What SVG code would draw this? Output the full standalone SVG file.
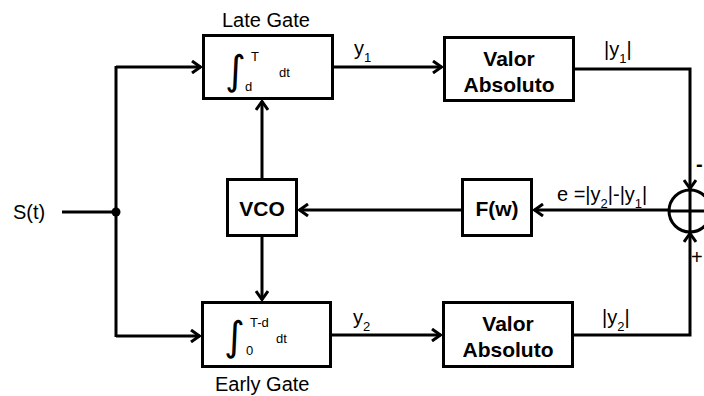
<svg xmlns="http://www.w3.org/2000/svg" width="704" height="396" viewBox="0 0 704 396">
<defs>
<style>
.box{fill:#fff;stroke:#000;stroke-width:3}
.ln{fill:none;stroke:#000;stroke-width:3}
.lbl{font-family:"Liberation Sans",Arial,sans-serif;font-size:20px;fill:#000}
.bold{font-family:"Liberation Sans",Arial,sans-serif;font-size:21px;font-weight:bold;fill:#000}
.sm{font-family:"Liberation Sans",Arial,sans-serif;font-size:13px;fill:#000}
.int{font-family:"DejaVu Sans",sans-serif;font-size:40px;fill:#000}
</style>
<marker id="arr" viewBox="0 0 12 14" refX="11" refY="7" markerWidth="12" markerHeight="14" markerUnits="userSpaceOnUse" orient="auto">
<path d="M2,1 L10.5,7 L2,13" fill="none" stroke="#000" stroke-width="3"/>
</marker>
</defs>
<rect width="704" height="396" fill="#fff"/>
<g id="connectors">
<line class="ln" x1="62" y1="212" x2="116" y2="212"/>
<line class="ln" x1="116" y1="66" x2="116" y2="337"/>
<polyline class="ln" points="116,67 201,67" marker-end="url(#arr)"/>
<polyline class="ln" points="116,336 200,336" marker-end="url(#arr)"/>
<circle cx="116" cy="212" r="4.5" fill="#000"/>
<polyline class="ln" points="333,67 442,67" marker-end="url(#arr)"/>
<polyline class="ln" points="331,335 441,335" marker-end="url(#arr)"/>
<polyline class="ln" points="574,69 690,69 690,189" marker-end="url(#arr)"/>
<polyline class="ln" points="573,335 690,335 690,233" marker-end="url(#arr)"/>
<polyline class="ln" points="668,210 534,210" marker-end="url(#arr)"/>
<polyline class="ln" points="462,210 299,210" marker-end="url(#arr)"/>
<polyline class="ln" points="262,179 262,101" marker-end="url(#arr)"/>
<polyline class="ln" points="262,237 262,300" marker-end="url(#arr)"/>
<text class="lbl" x="13" y="219">S(t)</text>
<text class="lbl" x="354" y="55">y<tspan class="sm" dy="7">1</tspan></text>
<text class="lbl" x="353" y="324">y<tspan class="sm" dy="7">2</tspan></text>
<text class="lbl" x="604" y="56">|y<tspan class="sm" dy="7">1</tspan><tspan dy="-7">|</tspan></text>
<text class="lbl" x="602" y="324">|y<tspan class="sm" dy="7">2</tspan><tspan dy="-7">|</tspan></text>
<text class="lbl" x="557" y="201">e =|y<tspan class="sm" dy="7">2</tspan><tspan dy="-7">|-|y</tspan><tspan class="sm" dy="7">1</tspan><tspan dy="-7">|</tspan></text>
<text class="lbl" x="696" y="171" font-weight="bold">-</text>
<text class="lbl" x="691" y="264">+</text>
</g>
<g id="late-gate">
<rect class="box" x="203.5" y="35.5" width="129" height="63"/>
<text class="lbl" x="222" y="27">Late Gate</text>
<text class="int" x="225" y="84">∫</text>
<text class="sm" x="251" y="61">T</text>
<text class="sm" x="245" y="91">d</text>
<text class="sm" x="279" y="77">dt</text>
</g>
<g id="early-gate">
<rect class="box" x="202.5" y="302.5" width="128" height="64"/>
<text class="lbl" x="215" y="391">Early Gate</text>
<text class="int" x="224" y="350">∫</text>
<text class="sm" x="250" y="327">T-d</text>
<text class="sm" x="246" y="355">0</text>
<text class="sm" x="276" y="343">dt</text>
</g>
<g id="valor-absoluto-1">
<rect class="box" x="444.5" y="37.5" width="129" height="63"/>
<text class="bold" x="509" y="66" text-anchor="middle">Valor</text>
<text class="bold" x="509" y="92" text-anchor="middle">Absoluto</text>
</g>
<g id="valor-absoluto-2">
<rect class="box" x="443.5" y="302.5" width="129" height="64"/>
<text class="bold" x="508" y="331" text-anchor="middle">Valor</text>
<text class="bold" x="508" y="357" text-anchor="middle">Absoluto</text>
</g>
<g id="vco">
<rect class="box" x="227.5" y="179.5" width="69" height="56"/>
<text class="bold" x="262" y="216" text-anchor="middle">VCO</text>
</g>
<g id="fw">
<rect class="box" x="462.5" y="179.5" width="69" height="56"/>
<text class="bold" x="497" y="216" text-anchor="middle">F(w)</text>
</g>
<g id="sum">
<circle class="ln" cx="690" cy="211" r="21"/>
<line class="ln" x1="669" y1="211" x2="711" y2="211"/>
<line class="ln" x1="690" y1="190" x2="690" y2="232"/>
</g>
</svg>
